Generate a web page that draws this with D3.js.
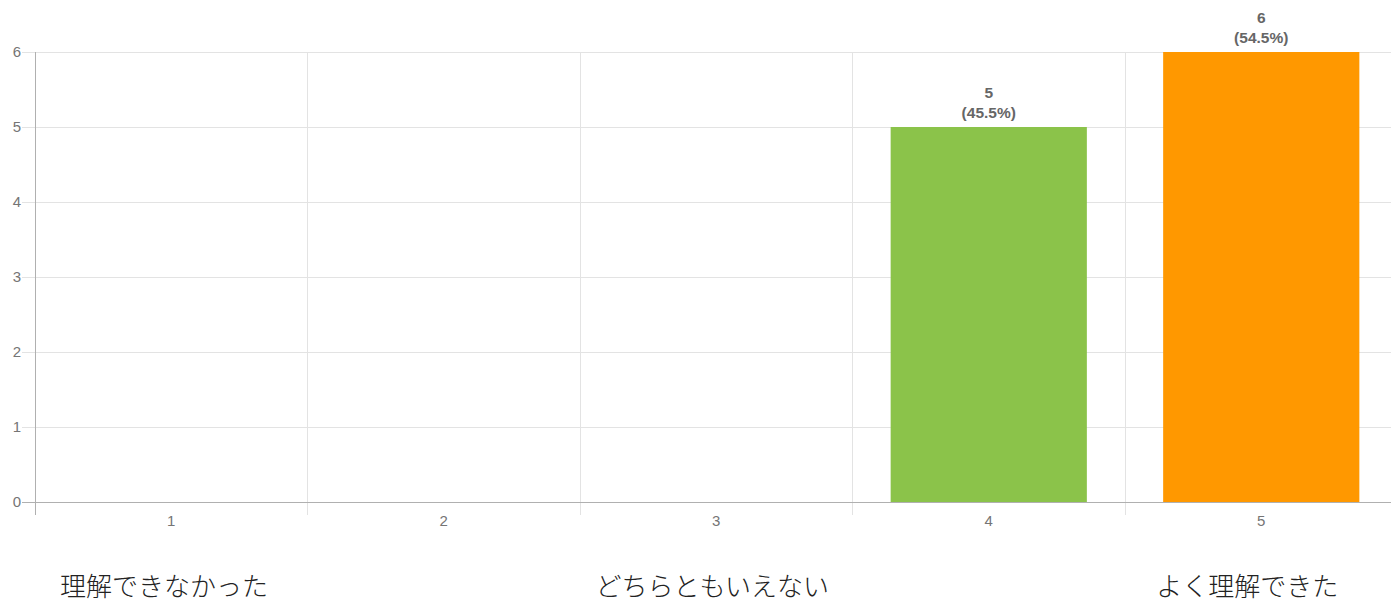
<!DOCTYPE html>
<html><head><meta charset="utf-8">
<script src="https://cdn.jsdelivr.net/npm/d3@7"></script>
<style>
body{margin:0;background:#fff;overflow:hidden}
svg{display:block}
</style></head>
<body>
<svg id="chart" width="1391" height="602"></svg>
<script>
const categories = ["1","2","3","4","5"];
const counts = [0,0,0,5,6];
const percents = ["0%","0%","0%","45.5%","54.5%"];
const barColors = ["#3f51b5","#e91e63","#9c27b0","#8bc34a","#ff9800"];
const yTicks = [0,1,2,3,4,5,6];
const scaleLabels = ["理解できなかった","どちらともいえない","よく理解できた"];

(function(){
const svg = d3.select("#chart");
const pL = 35, pR = 1397.5, pT = 52, pB = 502;
const x = d3.scaleBand().domain(categories).range([pL, pR]).paddingInner(0.28).paddingOuter(0.14);
const y = d3.scaleLinear().domain([0, 6]).range([pB, pT]);
const step = x.step();
const font = "Arial, 'Liberation Sans', sans-serif";

// horizontal grid
svg.append("g").selectAll("line").data(yTicks.filter(d=>d>0)).join("line")
  .attr("x1", pL-13).attr("x2", pR).attr("y1", d=>y(d)).attr("y2", d=>y(d))
  .attr("stroke", "#e3e3e3").attr("stroke-width", 1).attr("shape-rendering","crispEdges");
// vertical grid (band boundaries)
const bounds = categories.slice(1).map(c => x(c) - x.paddingInner()*step/2);
svg.append("g").selectAll("line").data(bounds).join("line")
  .attr("x1", d=>d).attr("x2", d=>d).attr("y1", pT).attr("y2", pB+13)
  .attr("stroke", "#e3e3e3").attr("shape-rendering","crispEdges");

// bars
svg.append("g").selectAll("rect").data(categories).join("rect")
  .attr("x", c=>x(c)).attr("width", x.bandwidth())
  .attr("y", (c,i)=>y(counts[i])).attr("height", (c,i)=>y(0)-y(counts[i]))
  .attr("fill", (c,i)=>barColors[i]);

// zero axis line
svg.append("line").attr("x1", pL-13).attr("x2", pR).attr("y1", y(0)).attr("y2", y(0))
  .attr("stroke", "#b0b0b0").attr("shape-rendering","crispEdges");
// left axis line
svg.append("line").attr("x1", pL).attr("x2", pL).attr("y1", pT).attr("y2", pB+13)
  .attr("stroke", "#b0b0b0").attr("shape-rendering","crispEdges");

// y tick labels
const yAxis = d3.axisLeft(y).tickValues(yTicks).tickFormat(d3.format("d")).tickSize(0).tickPadding(0);
const gy = svg.append("g").attr("transform", `translate(${pL-14},0)`).call(yAxis);
gy.select(".domain").remove();
gy.selectAll("text").attr("font-family", font).attr("font-size", 15).attr("fill", "#757575");

// x tick labels
const xAxis = d3.axisBottom(x).tickSize(0).tickPadding(0);
const gx = svg.append("g").attr("transform", `translate(0,${pB+13})`).call(xAxis);
gx.select(".domain").remove();
gx.selectAll("text").attr("font-family", font).attr("font-size", 15).attr("fill", "#757575");

// value labels
const lab = svg.append("g").selectAll("text").data(categories.filter((c,i)=>counts[i]>0)).join("text")
  .attr("text-anchor","middle").attr("font-family", font).attr("font-weight","bold")
  .attr("font-size", 15.5).attr("fill", "#666");
lab.each(function(c){
  const i = categories.indexOf(c);
  const t = d3.select(this);
  const cx = x(c) + x.bandwidth()/2;
  t.append("tspan").attr("x", cx).attr("y", y(counts[i]) - 29).text(counts[i]);
  t.append("tspan").attr("x", cx).attr("y", y(counts[i]) - 9).text(`(${percents[i]})`);
});

// scale end labels: left-aligned, centred, right-aligned across the plot
const anchors = ["start","middle","end"];
const lx = [pL + 25, x("3") + x.bandwidth()/2 - 4, x("5") + x.bandwidth() - 21];
svg.append("g").selectAll("text").data(scaleLabels).join("text")
  .attr("x", (d,i) => lx[i])
  .attr("y", 596)
  .attr("text-anchor", (d,i) => anchors[i])
  .attr("font-family", "'Noto Sans CJK JP', sans-serif").attr("font-weight", 300)
  .attr("font-size", 26).attr("fill", "#222")
  .text(d=>d);
})();
</script>
</body></html>
